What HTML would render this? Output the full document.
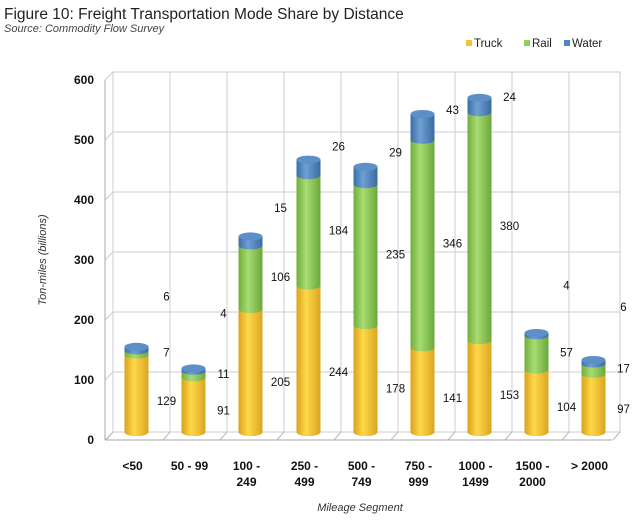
<!DOCTYPE html>
<html><head><meta charset="utf-8"><style>
body{margin:0;background:#fff;width:640px;height:519px;overflow:hidden;font-family:"Liberation Sans",sans-serif}
</style></head><body>
<svg width="640" height="519" xmlns="http://www.w3.org/2000/svg">
<defs>
<linearGradient id="gT" x1="0" x2="1"><stop offset="0" stop-color="#d9a21a"/><stop offset="0.4" stop-color="#ffd84a"/><stop offset="1" stop-color="#d9a520"/></linearGradient>
<linearGradient id="gR" x1="0" x2="1"><stop offset="0" stop-color="#6fae3a"/><stop offset="0.4" stop-color="#a8dc74"/><stop offset="1" stop-color="#6aa83a"/></linearGradient>
<linearGradient id="gW" x1="0" x2="1"><stop offset="0" stop-color="#3a6fa8"/><stop offset="0.4" stop-color="#6fa0d4"/><stop offset="1" stop-color="#3a6aa0"/></linearGradient>
</defs>
<text x="4" y="19" font-size="15.5" fill="#222">Figure 10:  Freight Transportation Mode Share by Distance</text>
<text x="4" y="32" font-size="11" font-style="italic" fill="#444">Source: Commodity Flow Survey</text>
<g font-size="11.5" fill="#222">
<rect x="466" y="40" width="6" height="6" fill="#f4c430"/><text x="474" y="47">Truck</text>
<rect x="524" y="40" width="6" height="6" fill="#8fd05a"/><text x="532" y="47">Rail</text>
<rect x="564" y="40" width="6" height="6" fill="#4f86c6"/><text x="572" y="47">Water</text>
</g>
<g id="grid"></g>
<g id="bars"></g>
<g id="labels" font-size="11.5" fill="#111"></g>
<text transform="translate(46,260) rotate(-90)" text-anchor="middle" font-size="11" font-style="italic" fill="#333">Ton-miles (billions)</text>
<text x="360" y="511" text-anchor="middle" font-size="11" font-style="italic" fill="#333">Mileage Segment</text>
</svg>
<script>
const categories=[["<50"],["50 - 99"],["100 -","249"],["250 -","499"],["500 -","749"],["750 -","999"],["1000 -","1499"],["1500 -","2000"],["> 2000"]];
const truck=[129,91,205,244,178,141,153,104,97];
const rail=[7,11,106,184,235,346,380,57,17];
const water=[6,4,15,26,29,43,24,4,6];
const yTicks=[0,100,200,300,400,500,600];
const NS="http://www.w3.org/2000/svg";
function mk(p,t,a){const e=document.createElementNS(NS,t);for(const k in a)e.setAttribute(k,a[k]);p.appendChild(e);return e;}
const base=432,sc=0.6,x0=108,step=57;
const yB=v=>base-v*sc; const xc=i=>x0+step*(i+0.5)+(i>=3?1:0);
const grid=document.getElementById('grid');
mk(grid,'rect',{x:113,y:yB(600),width:507,height:360,fill:'none',stroke:'#ccc'});
yTicks.forEach(v=>{
 const l=mk(grid,'line',{x1:113,x2:620,y1:yB(v),y2:yB(v),stroke:'#ccc'});
 
 
 mk(grid,'line',{x1:105,x2:113,y1:yB(v)+8,y2:yB(v),stroke:'#ccc'});
 const t=mk(grid,'text',{x:94,y:yB(v)+12,'text-anchor':'end','font-size':'12','font-weight':'bold',fill:'#111'});
 t.textContent=v;
 
 
});
for(let i=0;i<=categories.length;i++){
 const x=113+i*step-(i==categories.length?6:0);
 mk(grid,'line',{x1:x,x2:x,y1:yB(600),y2:base,stroke:'#ccc'});
 mk(grid,'line',{x1:x,x2:x-7,y1:base,y2:base+8,stroke:'#bbb'});
}
mk(grid,'line',{x1:105,x2:612,y1:base+8,y2:base+8,stroke:'#aaa'});
mk(grid,'line',{x1:105,x2:105,y1:yB(600)+8,y2:base+8,stroke:'#aaa'});
const bars=document.getElementById('bars'),labels=document.getElementById('labels');
const w=12;
function seg(g,cx,v0,v1,fill,name){
 const yt=yB(v1),yb=yB(v0);
 const r=mk(g,'rect',{x:cx-w,y:yt,width:2*w,height:yb-yt,fill:fill});
 
 
 mk(g,'ellipse',{cx:cx,cy:yb,rx:w,ry:4,fill:fill});
}
categories.forEach((c,i)=>{
 const cx=xc(i);
 const g=mk(bars,'g',{});
 
 
 const t=truck[i],r=rail[i],wa=water[i];
 mk(g,'ellipse',{cx:cx,cy:base,rx:w,ry:4,fill:'#d9a21a'});
 seg(g,cx,0,t,'url(#gT)','bar-truck');
 seg(g,cx,t,t+r,'url(#gR)','bar-rail');
 seg(g,cx,t+r,t+r+wa,'url(#gW)','bar-water');
 mk(g,'ellipse',{cx:cx,cy:yB(t+r+wa),rx:w,ry:4,fill:'#5d8fc8'});
 const lx=cx+30;
 const vals=[[t,base-t*0.25+5],[r,yB(t+r*0.5)+4],[wa,0.8*yB(t+r+wa)+23]];
 vals.forEach(([v,y],k)=>{
  const tx=mk(labels,'text',{x:lx,y:y,'text-anchor':'middle'});
  tx.textContent=v;
  
  
 });
 c.forEach((s,k)=>{
  const tx=mk(labels,'text',{x:cx-4,y:470+k*16,'text-anchor':'middle','font-size':'12','font-weight':'bold'});
  tx.textContent=s;
  
  
 });
});
</script>
</body></html>
